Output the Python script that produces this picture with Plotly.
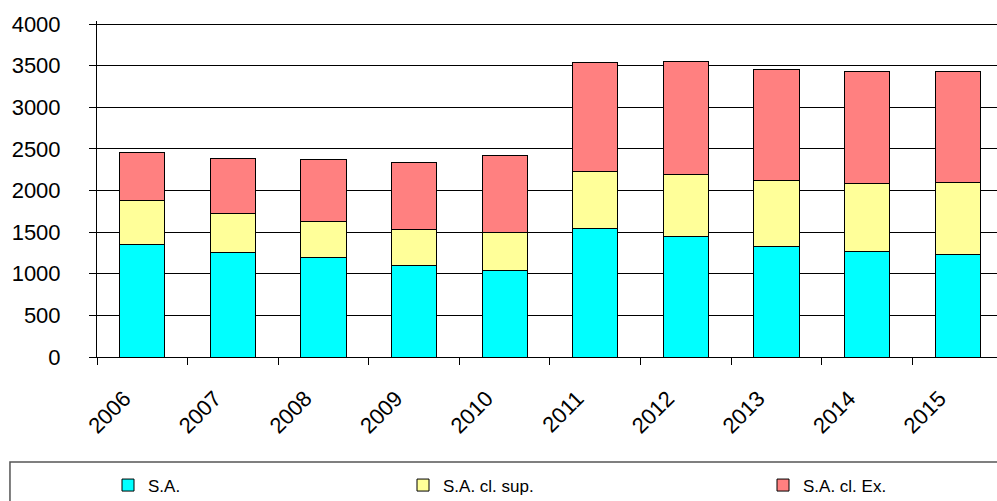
import plotly.graph_objects as go

years = ["2006", "2007", "2008", "2009", "2010", "2011", "2012", "2013", "2014", "2015"]
sa = [1354, 1258, 1198, 1105, 1045, 1541, 1453, 1325, 1269, 1229]
sa_sup = [523, 468, 432, 421, 453, 685, 745, 797, 821, 865]
sa_ex = [582, 661, 748, 816, 928, 1314, 1349, 1337, 1341, 1341]
y_ticks = [0, 500, 1000, 1500, 2000, 2500, 3000, 3500, 4000]

series = [
    ("S.A.", sa, "#00FFFF", "legend"),
    ("S.A. cl. sup.", sa_sup, "#FFFF99", "legend2"),
    ("S.A. cl. Ex.", sa_ex, "#FF8080", "legend3"),
]

W, H = 997, 501
L, R, T, B = 97, 0, 21, 144

fig = go.Figure()
for name, vals, col, lg in series:
    fig.add_trace(go.Bar(
        x=years, y=vals, name=name, width=0.5,
        marker=dict(color=col, line=dict(color="black", width=1)),
        legend=lg,
    ))

font = "Liberation Sans, Arial, sans-serif"
leg_common = dict(
    orientation="h", xref="container", yref="container",
    xanchor="left", yanchor="middle", y=1 - 485.5 / H,
    bgcolor="rgba(0,0,0,0)", borderwidth=0,
    font=dict(family=font, size=17, color="black"),
)

plot_h = H - T - B
def py(px):
    return (H - B - px) / plot_h
def pxx(px):
    return (px - L) / (W - L - R)

box_path = "M {:.4f},{:.4f} L {:.4f},{:.4f} L {:.4f},{:.4f}".format(
    pxx(1100), py(462), pxx(10), py(462), pxx(10), py(520))

fig.update_layout(
    width=W, height=H,
    margin=dict(l=L, r=R, t=T, b=B, pad=0, autoexpand=False),
    paper_bgcolor="white", plot_bgcolor="white",
    barmode="stack",
    showlegend=True,
    font=dict(family=font, size=22, color="black"),
    legend=dict(x=108 / W, **leg_common),
    legend2=dict(x=403 / W, **leg_common),
    legend3=dict(x=763 / W, **leg_common),
    xaxis=dict(
        type="category", range=[-0.5, 9.434],
        showline=True, linecolor="black", linewidth=1,
        ticks="outside", tickson="boundaries", ticklen=7, tickcolor="black",
        tickangle=-45, showgrid=False, automargin=False,
        ticklabelshift=-18, ticklabelstandoff=19,
        tickfont=dict(family=font, size=22, color="black"),
    ),
    yaxis=dict(
        range=[0, 4036], tickmode="array", tickvals=y_ticks,
        showline=True, linecolor="black", linewidth=1,
        ticks="outside", ticklen=7, tickcolor="black",
        showgrid=True, gridcolor="black", gridwidth=1,
        zeroline=False, ticklabelstandoff=24, automargin=False,
        tickfont=dict(family=font, size=22, color="black"),
    ),
    shapes=[
        dict(type="path", xref="paper", yref="paper", path=box_path,
             line=dict(color="#555555", width=1.5), layer="below"),
    ],
)

fig.write_html(
    "out.html",
    config={"displayModeBar": False},
    post_script="document.body.style.margin='0';document.body.style.overflow='hidden';",
)
